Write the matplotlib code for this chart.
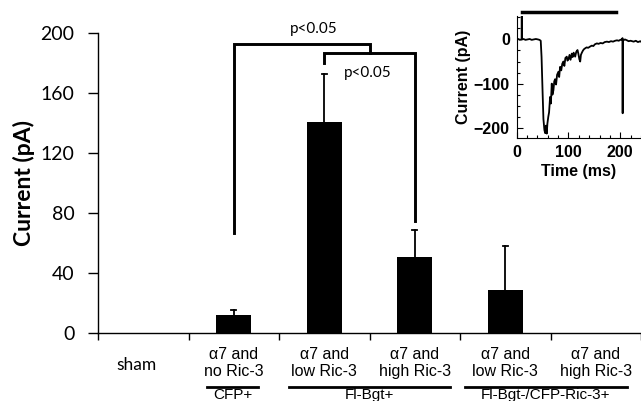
import matplotlib.pyplot as plt
from matplotlib.transforms import blended_transform_factory

# bar data
groups = ["sham", "\u03b17 and\nno Ric-3", "\u03b17 and\nlow Ric-3", "\u03b17 and\nhigh Ric-3",
          "\u03b17 and\nlow Ric-3", "\u03b17 and\nhigh Ric-3"]
currents = [0, 12, 141, 51, 29, 0]
errors = [0, 3.5, 32, 18, 29, 0]

# group labels under the axis
group_names = ["CFP+", "Fl-Bgt+", "Fl-Bgt-/CFP-Ric-3+"]

# inset trace (ms, pA)
trace_t = [0, 3, 6, 9.5, 9.7, 9.9, 10.1, 13, 17, 21, 25, 29, 33, 37, 41, 44, 46.4, 48, 50, 51.6,
           53.5, 55, 56.7, 58, 59.3, 61, 62.5, 64.5, 66, 67.7, 69, 70.9, 72.5, 74.1, 76, 78, 80.6,
           82, 83.8, 86, 88, 90.2, 92, 94, 96.7, 98, 99.9, 102, 104, 106.4, 108, 110, 112.9, 115,
           117.4, 119, 121, 122.6, 124, 125.8, 128, 130, 132.3, 135, 138, 141.9, 145, 148, 151,
           154.8, 158, 162, 166, 170, 174.2, 178, 182, 186, 190, 193.6, 197, 200, 203, 204.3,
           204.6, 204.9, 206, 209, 212.9, 216, 220, 225.8, 230, 234, 238.7, 240]
trace_i = [0, 1, -1, 0, 55, 55, 0, 1, -1, 0, 1, -1, 0, 1, 0, -1, -3, -40, -120, -180,
           -205, -212, -195, -213, -190, -175, -165, -130, -145, -100, -125, -115, -95, -90, -102, -80, -73,
           -85, -62, -70, -55, -50, -60, -42, -39, -48, -45, -35, -46, -32, -40, -30, -39, -28,
           -24, -32, -45, -50, -35, -30, -25, -22, -20, -18, -19, -16, -14, -15, -11,
           -9, -10, -8, -9, -6, -5, -6, -4, -5, -3, -2, -3, -1, 0, 3,
           -167, 0, -2, 0, -2, -4, -3, -5, -3, -6, -4, -5]

plt.rcParams['font.family'] = ['Lato', 'DejaVu Sans']
arial = ['Liberation Sans', 'DejaVu Sans']

fig = plt.figure(figsize=(6.41, 4.01), dpi=100)
ax = fig.add_axes([98/641, 1-333/401, 543/641, 300/401])

pos = [i + 0.5 for i in range(len(currents))]
ax.bar(pos, currents, width=0.39, color="black", zorder=3)
for x, v, e in zip(pos, currents, errors):
    if e > 0:
        ax.plot([x, x], [v, v+e], color="black", lw=1.3, zorder=2)
        ax.plot([x-0.025, x+0.025], [v+e, v+e], color="black", lw=1.3, zorder=2)

ax.set_xlim(0, 6)
ax.set_ylim(0, 200)
ax.set_yticks([0, 40, 80, 120, 160, 200])
ax.set_xticks(range(7))
ax.set_xticklabels([])
ax.spines["top"].set_visible(False)
ax.spines["right"].set_visible(False)
ax.spines["left"].set_linewidth(1.0)
ax.spines["bottom"].set_linewidth(1.0)
ax.tick_params(axis="y", direction="out", length=7, width=1.0, labelsize=14, pad=10)
ax.tick_params(axis="x", direction="out", length=5, width=1.0)
ax.set_ylabel("Current (pA)", fontsize=16.5, fontweight="bold", labelpad=4)

# significance brackets
ax.plot([1.5, 1.5, 3.0, 3.0], [66.7, 193, 193, 186.7], color="black", lw=2.1, clip_on=False,
        solid_joinstyle="miter")
ax.plot([2.5, 2.5, 3.5, 3.5], [180, 186.7, 186.7, 75], color="black", lw=2.1, clip_on=False,
        solid_joinstyle="miter")
ax.text(2.38, 203, "p<0.05", fontsize=11, ha="center", va="center")
ax.text(2.98, 173, "p<0.05", fontsize=11, ha="center", va="center")

# category labels
trans = blended_transform_factory(ax.transData, fig.transFigure)
for x, lab in zip(pos, groups):
    if lab == "sham":
        ax.text(x - 0.07, 1-365/401, lab, transform=trans, ha="center", va="center", fontsize=12.5)
    else:
        ax.text(x, 1-363/401, lab, transform=trans, ha="center", va="center", fontsize=11.5,
                family=arial, linespacing=1.2)

line_spans = [(1.2, 1.77), (2.11, 3.89), (4.05, 5.84)]
for (x0, x1), name in zip(line_spans, group_names):
    ax.plot([x0, x1], [1-387/401]*2, transform=trans, color="black", lw=2, clip_on=False)
    ax.text((x0+x1)/2, 1-395/401, name, transform=trans, ha="center", va="center",
            fontsize=11, family=arial)

# inset recording
ins = fig.add_axes([516.7/641, 1-138/401, 124.3/641, 122/401])
ins.plot(trace_t, trace_i, color="black", lw=1.3)
ins.plot([10, 192], [62, 62], color="black", lw=2.5, clip_on=False)
ins.set_xlim(0, 240)
ins.set_ylim(-223, 53)
ins.set_xticks([0, 100, 200])
ins.set_xticks(range(0, 241, 20), minor=True)
ins.set_yticks([0, -100, -200])
ins.set_yticks(range(-200, 51, 25), minor=True)
ins.spines["top"].set_visible(False)
ins.spines["right"].set_visible(False)
ins.tick_params(which="both", direction="in", width=0.8)
ins.tick_params(which="major", length=4, labelsize=11.5, pad=5)
ins.tick_params(which="minor", length=2.5)
for lab in ins.get_xticklabels() + ins.get_yticklabels():
    lab.set_family(arial)
    lab.set_fontweight("bold")
ins.set_xlabel("Time (ms)", fontsize=11.5, fontweight="bold", family=arial, labelpad=3)
ins.set_ylabel("Current (pA)", fontsize=11.5, fontweight="bold", family=arial, labelpad=2)

fig.savefig("out.png", dpi=100)
